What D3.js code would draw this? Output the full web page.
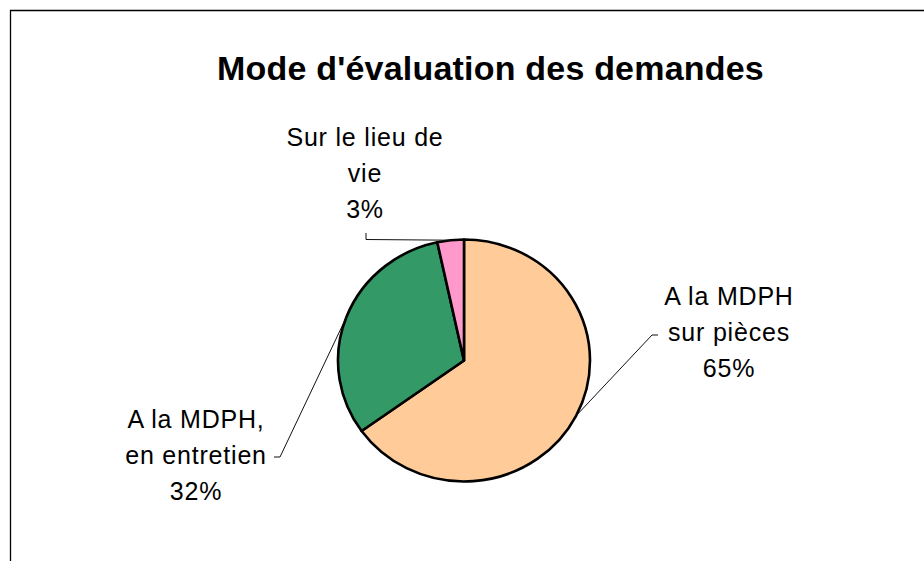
<!DOCTYPE html>
<html>
<head>
<meta charset="utf-8">
<title>Mode d'évaluation des demandes</title>
<style>
  body { margin: 0; background: #fff; }
  text { font-family: "Liberation Sans", Arial, sans-serif; fill: #000; }
</style>
</head>
<body>
<script src="https://d3js.org/d3.v7.min.js"></script>
<script>

var width = 924,
    height = 561;

// data
var categories = ["A la MDPH sur pièces", "A la MDPH, en entretien", "Sur le lieu de vie"];
var labelLines = [["A la MDPH", "sur pièces"], ["A la MDPH,", "en entretien"], ["Sur le lieu de", "vie"]];
var values = [65.1, 31.5, 3.4];
var colors = ["#FFCC99", "#339966", "#FF99CC"];

// pie is drawn a bit wider than tall, as in the original
var cx = 464, cy = 360.5,
    ry = 121, rx = 126;

// where each label block sits and where its leader bends
var labelPos = [
  { x: 729, y: 305, elbow: [652, 335], stub: [658, 335] },
  { x: 196, y: 428, elbow: [280, 457], stub: [274, 457] },
  { x: 365, y: 146, elbow: [366, 239.5], stub: [366, 233] }
];

var svg = d3.select("body").append("svg")
    .attr("width", width)
    .attr("height", height);

// chart frame (runs off right and bottom)
svg.append("path")
    .attr("d", "M10.5," + height + "V10.5H" + width)
    .attr("fill", "none")
    .attr("stroke", "#000")
    .attr("stroke-width", 1.3);

svg.append("text")
    .attr("x", 490.5)
    .attr("y", 80)
    .attr("text-anchor", "middle")
    .style("font-size", "34px")
    .style("font-weight", "bold")
    .style("letter-spacing", "0.2px")
    .text("Mode d'évaluation des demandes");

var pie = d3.pie().sort(null).value(function(d) { return d; });
var arcs = pie(values);

var arc = d3.arc().innerRadius(0).outerRadius(ry);

var g = svg.append("g")
    .attr("transform", "translate(" + cx + "," + cy + ") scale(" + (rx / ry) + ",1)");

g.selectAll("path")
  .data(arcs)
  .enter().append("path")
    .attr("d", arc)
    .attr("fill", function(d, i) { return colors[i]; })
    .attr("stroke", "#000")
    .attr("stroke-width", 2.6)
    .attr("stroke-linejoin", "round")
    .attr("vector-effect", "non-scaling-stroke");

// leader lines
svg.selectAll(".leader")
  .data(arcs)
  .enter().append("polyline")
    .attr("class", "leader")
    .attr("fill", "none")
    .attr("stroke", "#111")
    .attr("stroke-width", 1)
    .attr("points", function(d, i) {
      var a = (d.startAngle + d.endAngle) / 2;
      var px = cx + rx * Math.sin(a),
          py = cy - ry * Math.cos(a);
      var p = labelPos[i];
      return [[px, py], p.elbow, p.stub].map(function(q) { return q.join(","); }).join(" ");
    });

// labels
var lab = svg.selectAll(".label")
  .data(arcs)
  .enter().append("text")
    .attr("class", "label")
    .attr("text-anchor", "middle")
    .style("font-size", "25px")
    .style("letter-spacing", "0.8px")
    .attr("x", function(d, i) { return labelPos[i].x; })
    .attr("y", function(d, i) { return labelPos[i].y; });

lab.each(function(d, i) {
  var t = d3.select(this);
  var lines = labelLines[i].concat([Math.round(values[i]) + "%"]);
  lines.forEach(function(s, k) {
    t.append("tspan")
      .attr("x", labelPos[i].x)
      .attr("dy", k === 0 ? 0 : 35.8)
      .text(s);
  });
});

</script>
</body>
</html>
